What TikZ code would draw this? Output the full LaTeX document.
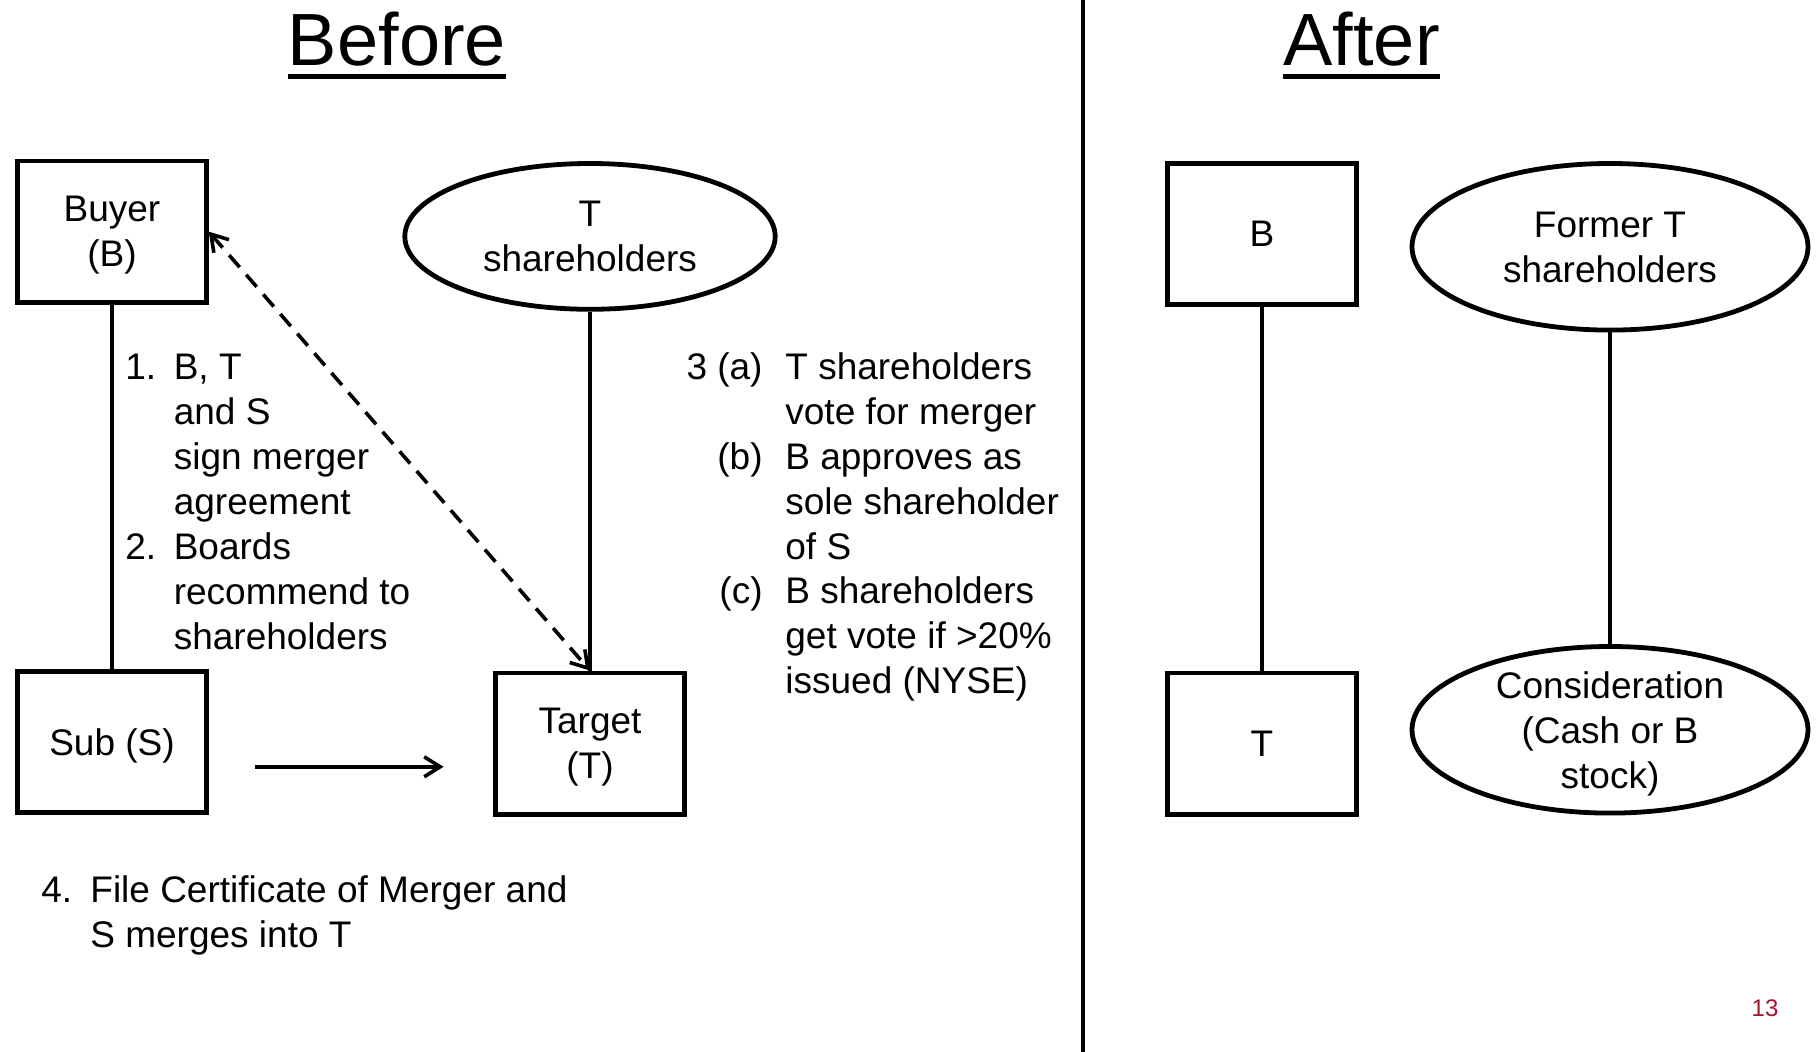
\documentclass[tikz,border=0pt]{standalone}
\usepackage{fontspec}
\setmainfont{Liberation Sans}
\usetikzlibrary{shapes.geometric,arrows.meta}
\definecolor{pagered}{RGB}{165,20,45}
\begin{document}
\begin{tikzpicture}[x=1pt,y=-1pt,
  bodyfont/.style={font=\fontsize{18.5}{22.5}\selectfont},
  body/.style={bodyfont, inner sep=0pt, anchor=base west},
  numlabel/.style={bodyfont, inner sep=0pt, anchor=base east},
  box/.style={draw, line width=2.4pt, minimum width=94.3pt, minimum height=70.6pt,
    align=center, bodyfont, inner sep=0pt, text depth=0pt},
  oval/.style={draw, ellipse, line width=2.4pt, align=center, bodyfont, inner sep=0pt, text depth=0pt},
  link/.style={line width=1.8pt},
  barb/.style={-{Straight Barb[length=8pt,width=10pt,line width=1.8pt]}},
  dbarb/.style={{Straight Barb[length=8pt,width=10pt,line width=1.8pt]}-{Straight Barb[length=8pt,width=10pt,line width=1.8pt]}},
  heading/.style={font=\fontsize{37}{44}\selectfont, inner sep=0pt, anchor=base},
  uline/.style={line width=2.5pt}]

\useasboundingbox (0,0) rectangle (908,526);

% divider
\coordinate (dtop) at (541.5,0);
\coordinate (dbot) at (541.5,526);
\draw[line width=1.9pt] (dtop) -- (dbot);

% titles
\node[heading] (before) at (198.5,33) {Before};
\draw[uline] ([yshift=-5.5pt]before.base west) -- ([yshift=-5.5pt]before.base east);
\node[heading] (after) at (680.8,33) {After};
\draw[uline] ([yshift=-5.5pt]after.base west) -- ([yshift=-5.5pt]after.base east);

% Before nodes
\node[box] (buyer) at (56,115.8) {Buyer\\(B)};
\node[box] (sub) at (56,370.9) {Sub (S)};
\node[box] (target) at (295,371.8) {Target\\(T)};
\node[oval, minimum width=185.2pt, minimum height=72.9pt] (tsh) at (295,118.2) {T\\shareholders};

\draw[link] (buyer) -- (sub);
\draw[link] (tsh) -- (target);
\draw[link, dash pattern=on 8pt off 5pt, dbarb] (buyer.east) -- (target.north);
\coordinate (mstart) at (127.4,383.4);
\coordinate (mend) at (221.8,383.4);
\draw[link, barb] (mstart) -- (mend);

% text block 1 and 2
\node[body] (n1) at (62.5,190) {1.};
\foreach \t [count=\i] in {{B, T},and S,sign merger,agreement}
  \node[body] (s1-\i) at (86.7,{190+22.5*(\i-1)}) {\t};
\node[body] (n2) at (62.5,280) {2.};
\foreach \t [count=\i] in {Boards,recommend to,shareholders}
  \node[body] (s2-\i) at (86.7,{280+22.5*(\i-1)}) {\t};

% text block 3
\node[numlabel] (n3a) at (381.5,190) {3 (a)};
\node[numlabel] (n3b) at (381.5,234.8) {(b)};
\node[numlabel] (n3c) at (381.5,302) {(c)};
\foreach \t [count=\i] in {T shareholders,vote for merger,B approves as,sole shareholder,of S,B shareholders,get vote if >20\%,issued (NYSE)}
  \node[body] (s3-\i) at (392.5,{190+22.4*(\i-1)}) {\t};

% text block 4
\node[body] (n4) at (20.5,451.5) {4.};
\node[body] (s4-1) at (45,451.5) {File Certificate of Merger and};
\node[body] (s4-2) at (45,474) {S merges into T};

% After nodes
\node[box] (bafter) at (631,117) {B};
\node[box] (tafter) at (631,371.8) {T};
\node[oval, minimum width=198pt, minimum height=83.3pt] (former) at (805,123.4) {Former T\\shareholders};
\node[oval, minimum width=198pt, minimum height=83.3pt, inner ysep=-5pt] (cons) at (805,364.9) {Consideration\\(Cash or B\\stock)};

\draw[link] (bafter) -- (tafter);
\draw[link] (former) -- (cons);

% page number
\node[font=\fontsize{12}{14}\selectfont, text=pagered, inner sep=0pt] (pg) at (882.5,504) {13};
\end{tikzpicture}
\end{document}
